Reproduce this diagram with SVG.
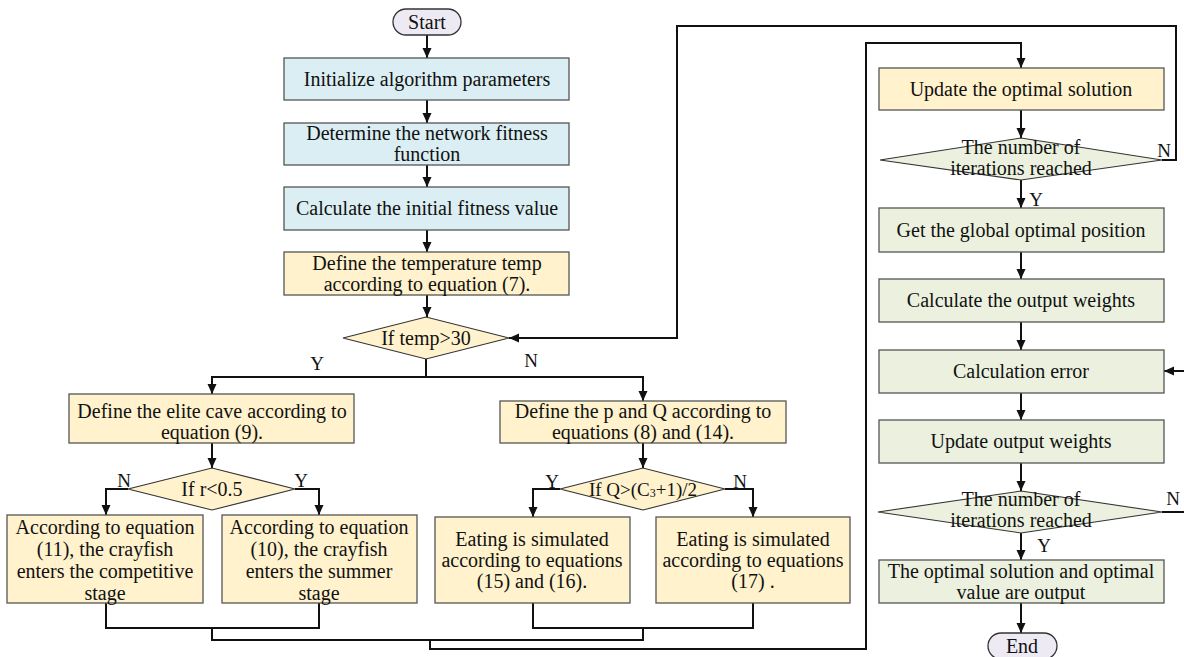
<svg xmlns="http://www.w3.org/2000/svg" width="1184" height="657" viewBox="0 0 1184 657">
<style>
text{font-family:"Liberation Serif","Times New Roman",serif;font-size:20px;fill:#111;text-anchor:middle}
.lbl{font-size:19px}
.blue{fill:#daeef3;stroke:#555;stroke-width:1.3}
.yel{fill:#fff2cc;stroke:#555;stroke-width:1.3}
.grn{fill:#ebf1de;stroke:#555;stroke-width:1.3}
.dia{stroke:#333;stroke-width:1.1}
.pill{fill:#eeeaf3;stroke:#333;stroke-width:1.3}
.con{fill:none;stroke:#111;stroke-width:2}
</style>
<defs>
<marker id="ah" markerUnits="userSpaceOnUse" markerWidth="10" markerHeight="10" refX="10" refY="5" orient="auto">
<path d="M0,0.5 L10,5 L0,9.5 z" fill="#111"/>
</marker>
</defs>
<g id="connectors">
<path class="con" d="M427,35 V58" marker-end="url(#ah)"/>
<path class="con" d="M427,100 V123" marker-end="url(#ah)"/>
<path class="con" d="M427,165 V187" marker-end="url(#ah)"/>
<path class="con" d="M427,230 V252" marker-end="url(#ah)"/>
<path class="con" d="M427,295 V317" marker-end="url(#ah)"/>
<path class="con" d="M426,359 V377 H212 V394" marker-end="url(#ah)"/>
<path class="con" d="M426,377 H643 V401" marker-end="url(#ah)"/>
<path class="con" d="M212,443 V468" marker-end="url(#ah)"/>
<path class="con" d="M128,489 H106 V515" marker-end="url(#ah)"/>
<path class="con" d="M295,489 H319 V515" marker-end="url(#ah)"/>
<path class="con" d="M643,443 V468" marker-end="url(#ah)"/>
<path class="con" d="M560,489 H533 V517" marker-end="url(#ah)"/>
<path class="con" d="M725,489 H753 V517" marker-end="url(#ah)"/>
<path class="con" d="M106,603 V628 H319 V603"/>
<path class="con" d="M533,603 V628 H753 V603"/>
<path class="con" d="M212,628 V640 H643 V628"/>
<path class="con" d="M430,640 V649 H866 V43 H1021 V68" marker-end="url(#ah)"/>
<path class="con" d="M1162,160 H1176 V26 H677 V338 H509" marker-end="url(#ah)"/>
<path class="con" d="M1021,110 V138" marker-end="url(#ah)"/>
<path class="con" d="M1021,180 V208" marker-end="url(#ah)"/>
<path class="con" d="M1021,252 V279" marker-end="url(#ah)"/>
<path class="con" d="M1021,322 V350" marker-end="url(#ah)"/>
<path class="con" d="M1021,393 V420" marker-end="url(#ah)"/>
<path class="con" d="M1021,463 V491" marker-end="url(#ah)"/>
<path class="con" d="M1021,533 V560" marker-end="url(#ah)"/>
<path class="con" d="M1021,603 V633" marker-end="url(#ah)"/>
<path class="con" d="M1162,512 H1192 V371 H1164" marker-end="url(#ah)"/>
<text class="lbl" x="317" y="370">Y</text>
<text class="lbl" x="531" y="367">N</text>
<text class="lbl" x="124" y="487">N</text>
<text class="lbl" x="301" y="487">Y</text>
<text class="lbl" x="552" y="488">Y</text>
<text class="lbl" x="740" y="488">N</text>
<text class="lbl" x="1164" y="157">N</text>
<text class="lbl" x="1036" y="206">Y</text>
<text class="lbl" x="1173" y="505">N</text>
<text class="lbl" x="1044" y="552">Y</text>
</g>
<g id="start"><rect class="pill" x="393" y="9" width="68" height="26" rx="13"/><text x="427" y="29">Start</text></g>
<g id="init"><rect class="blue" x="284" y="58" width="285" height="42"/><text x="427" y="86">Initialize algorithm parameters</text></g>
<g id="fitness-fn"><rect class="blue" x="284" y="123" width="285" height="42"/><text x="427" y="140">Determine the network fitness</text><text x="427" y="161">function</text></g>
<g id="init-fitness"><rect class="blue" x="284" y="187" width="285" height="43"/><text x="427" y="215">Calculate the initial fitness value</text></g>
<g id="temp"><rect class="yel" x="284" y="252" width="285" height="43"/><text x="427" y="270">Define the temperature temp</text><text x="427" y="291">according to equation (7).</text></g>
<g id="if-temp"><polygon class="yel dia" points="343,338 426,317 509,338 426,359"/><text x="426" y="345">If temp&gt;30</text></g>
<g id="elite"><rect class="yel" x="69" y="394" width="285" height="49"/><text x="212" y="418">Define the elite cave according to</text><text x="212" y="439">equation (9).</text></g>
<g id="pq"><rect class="yel" x="500" y="401" width="286" height="42"/><text x="643" y="418">Define the p and Q according to</text><text x="643" y="439">equations (8) and (14).</text></g>
<g id="if-r"><polygon class="yel dia" points="128,489 212,468 295,489 212,510"/><text x="212" y="496">If r&lt;0.5</text></g>
<g id="if-q"><polygon class="yel dia" points="560,489 643,468 725,489 643,510"/><text x="643" y="496" style="font-size:19px">If Q&gt;(C<tspan font-size="12" dy="1">3</tspan><tspan dy="-1">+1)/2</tspan></text></g>
<g id="competitive"><rect class="yel" x="7" y="515" width="196" height="88"/><text x="105" y="534">According to equation</text><text x="105" y="556">(11), the crayfish</text><text x="105" y="578">enters the competitive</text><text x="105" y="600">stage</text></g>
<g id="summer"><rect class="yel" x="222" y="515" width="195" height="88"/><text x="319" y="534">According to equation</text><text x="319" y="556">(10), the crayfish</text><text x="319" y="578">enters the summer</text><text x="319" y="600">stage</text></g>
<g id="eat1"><rect class="yel" x="435" y="517" width="195" height="86"/><text x="532" y="546">Eating is simulated</text><text x="532" y="567">according to equations</text><text x="532" y="588">(15) and (16).</text></g>
<g id="eat2"><rect class="yel" x="656" y="517" width="194" height="86"/><text x="753" y="546">Eating is simulated</text><text x="753" y="567">according to equations</text><text x="753" y="588">(17) .</text></g>
<g id="update-opt"><rect class="yel" x="879" y="68" width="285" height="42"/><text x="1021" y="96">Update the optimal solution</text></g>
<g id="iter1"><polygon class="grn dia" points="880,160 1021,138 1162,160 1021,180"/><text x="1021" y="154">The number of</text><text x="1021" y="175">iterations reached</text></g>
<g id="global"><rect class="grn" x="879" y="208" width="285" height="44"/><text x="1021" y="237">Get the global optimal position</text></g>
<g id="calc-w"><rect class="grn" x="879" y="279" width="285" height="43"/><text x="1021" y="307">Calculate the output weights</text></g>
<g id="calc-err"><rect class="grn" x="879" y="350" width="285" height="43"/><text x="1021" y="378">Calculation error</text></g>
<g id="update-w"><rect class="grn" x="879" y="420" width="285" height="43"/><text x="1021" y="448">Update output weights</text></g>
<g id="iter2"><polygon class="grn dia" points="878,512 1021,491 1162,512 1021,533"/><text x="1021" y="506">The number of</text><text x="1021" y="527">iterations reached</text></g>
<g id="output"><rect class="grn" x="879" y="560" width="285" height="43"/><text x="1021" y="578">The optimal solution and optimal</text><text x="1021" y="599">value are output</text></g>
<g id="end"><rect class="pill" x="988" y="633" width="69" height="26" rx="13"/><text x="1022" y="653">End</text></g>
</svg>
